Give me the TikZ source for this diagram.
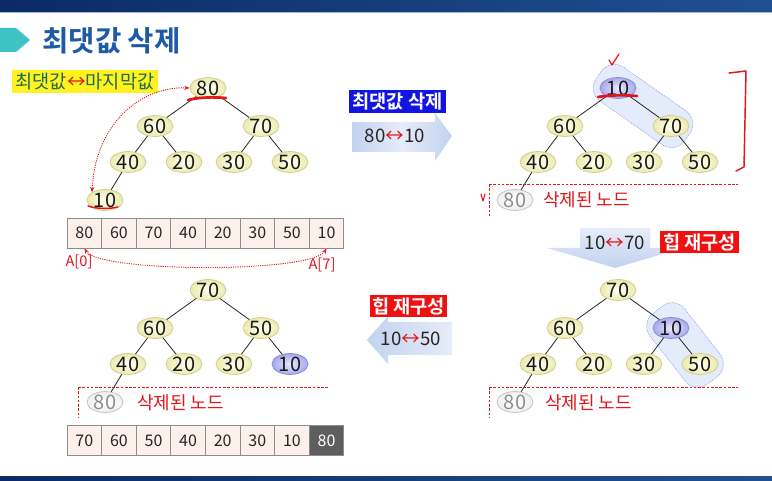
\documentclass[tikz,border=0pt]{standalone}
\usepackage{fontspec}
\setmainfont{Noto Sans CJK KR}[BoldFont={Noto Sans CJK KR Bold}]
\usetikzlibrary{shapes.geometric,arrows.meta}
\definecolor{nodeb}{HTML}{D2CF8E}
\definecolor{nodei}{HTML}{FFFFF4}
\definecolor{nodeo}{HTML}{ECEAAE}
\definecolor{blueb}{HTML}{8C8FDA}
\definecolor{bluei}{HTML}{E8E8FF}
\definecolor{blueo}{HTML}{A7A9EA}
\definecolor{delb}{HTML}{C4C4C4}
\definecolor{delt}{HTML}{8E8E8E}
\definecolor{cellb}{HTML}{8C8C8C}
\definecolor{cellf}{HTML}{FBF0EA}
\definecolor{darkcell}{HTML}{5E5E5E}
\definecolor{hred}{HTML}{E3161B}
\definecolor{titleblue}{HTML}{1D5BA6}
\definecolor{tealmark}{HTML}{3EC3C4}
\definecolor{labyel}{HTML}{FFF21F}
\definecolor{labtxt}{HTML}{1F6A52}
\definecolor{boxblue}{HTML}{1414E0}
\definecolor{boxred}{HTML}{F01010}
\definecolor{arrA}{HTML}{C2D2EF}
\definecolor{arrB}{HTML}{E6ECF8}
\definecolor{bandf}{HTML}{E4EBFA}
\definecolor{bandd}{HTML}{9AA6EA}
\definecolor{barA}{HTML}{0B2A66}
\definecolor{barB}{HTML}{21508F}
\begin{document}
\begin{tikzpicture}[x=0.75pt,y=-0.75pt,
  hn/.style={ellipse,draw=nodeb,inner color=nodei,outer color=nodeo,minimum width=27pt,minimum height=15pt,inner sep=0pt,line width=0.6pt,text=black!90,font=\fontsize{15}{15}\selectfont},
  hblue/.style={hn,draw=blueb,inner color=bluei,outer color=blueo},
  hdel/.style={hn,draw=delb,inner color=white,outer color=black!6,text=delt},
  tedge/.style={draw=black!85,line width=0.6pt},
  cell/.style={rectangle,draw=cellb,fill=cellf,minimum width=25.95pt,minimum height=22.5pt,inner sep=0pt,line width=0.6pt,text=black!85,font=\fontsize{12}{12}\selectfont},
  reddash/.style={draw=hred,dash pattern=on 2pt off 1.2pt,line width=0.6pt},
  reddot/.style={draw=hred,dash pattern=on 0.8pt off 0.9pt,line width=0.7pt},
  band/.style={rectangle,rounded corners=12pt,fill=bandf,draw=bandd,dash pattern=on 0.7pt off 0.7pt,line width=0.5pt,inner sep=0pt},
  dellab/.style={anchor=west,text=hred,font=\fontsize{13.5}{13.5}\selectfont,inner sep=0pt},
  arrtxt/.style={font=\fontsize{14}{14}\selectfont,inner sep=0pt,text=black!85},
  lab/.style={inner sep=0pt,text=white,font=\bfseries\fontsize{14}{14}\selectfont},
  hand/.style={draw=hred,line cap=round,line join=round}]
\useasboundingbox (0,0) rectangle (772,481);
\fill[white] (0,0) rectangle (772,481);
% bars
\shade[left color=barA,right color=barB] (0,0) rectangle (772,12);
\draw[color={rgb,255:red,158;green,179;blue,214},line width=0.75pt] (0,13) -- (772,13);
\shade[left color=barA,right color=barB] (0,476) rectangle (772,481);
% title
\fill[tealmark] (0,28) -- (16,28) -- (30,40) -- (16,52) -- (0,52) -- cycle;
\node[anchor=west,inner sep=0pt,text=titleblue,font=\bfseries\fontsize{21.5}{21.5}\selectfont] (title) at (42,41) {최댓값 삭제};
\node[fill=labyel,minimum width=109.5pt,minimum height=17.25pt,inner sep=0pt,text=labtxt,font=\fontsize{14}{14}\selectfont] (yl) at (85,81.5) {최댓값{\color{hred}↔}마지막값};

% ---------- tree 1 ----------
\node[hn] (a1) at (208,88) {80};
\node[hn] (a2) at (155,126) {60};
\node[hn] (a3) at (261,126) {70};
\node[hn] (a4) at (128,162) {40};
\node[hn] (a5) at (184,162) {20};
\node[hn] (a6) at (234,162) {30};
\node[hn] (a7) at (290,162) {50};
\node[hn] (a8) at (105,200) {10};
\draw[tedge] (a1)--(a2) (a1)--(a3) (a2)--(a4) (a2)--(a5) (a3)--(a6) (a3)--(a7) (a4)--(a8);
\draw[reddot,{Stealth[length=4pt,width=3pt]}-{Stealth[length=4pt,width=3pt]}] (a1.west) .. controls (140,86) and (95,125) .. (a8.north west);
\draw[hand,line width=2pt] (188,100) .. controls (200,97) and (214,97) .. (226,98);
\draw[hand,line width=1.1pt] (88,206) .. controls (96,209) and (110,209) .. (118,207);

% array 1
\foreach \v [count=\i] in {80,60,70,40,20,30,50,10}
  \node[cell] (p\i) at ({67+34.6*(\i-0.5)},233) {\v};
\draw[reddot,{Stealth[length=4pt,width=3pt]}-{Stealth[length=4pt,width=3pt]}] (p1.south) .. controls (100,273) and (312,273) .. (p8.south);
\node[text=hred,inner sep=0pt,font=\fontsize{11}{11}\selectfont] (ha0) at (79,262) {A[0]};
\node[text=hred,inner sep=0pt,font=\fontsize{11}{11}\selectfont] (ha7) at (322,265) {A[7]};

% ---------- arrow 1 ----------
\shade[left color=arrA,right color=arrA,middle color=arrB] (352,122) -- (435,122) -- (435,113) -- (452,136) -- (435,161) -- (435,152) -- (352,152) -- cycle;
\node[arrtxt] (t1) at (395,136) {80{\color{hred}↔}10};
\node[lab,fill=boxblue,minimum width=73pt,minimum height=17.25pt] (l1) at (397.5,101.5) {최댓값 삭제};

% ---------- tree 2 ----------
\begin{scope}[shift={(410,0)}]
\node[band,rotate=-35,minimum width=81pt,minimum height=31pt] (bb) at (233,106) {};
\node[hblue] (b1) at (208,88) {10};
\node[hn] (b2) at (155,126) {60};
\node[hn] (b3) at (261,126) {70};
\node[hn] (b4) at (128,162) {40};
\node[hn] (b5) at (184,162) {20};
\node[hn] (b6) at (234,162) {30};
\node[hn] (b7) at (290,162) {50};
\node[hdel] (b8) at (105,200) {80};
\draw[tedge] (b1)--(b2) (b1)--(b3) (b2)--(b4) (b2)--(b5) (b3)--(b6) (b3)--(b7) (b4)--(b8);
\draw[reddash] (79,184) -- (328,184) (79,184) -- (79,216);
\node[dellab] (b9) at (133,200) {삭제된 노드};
\draw[hand,line width=2pt] (188,97) .. controls (200,95) and (215,95) .. (227,96);
\draw[hand,line width=0.9pt] (199,60) -- (202,65) -- (209,54);
\draw[hand,line width=0.8pt] (71,194) -- (73,201) -- (75,194);
\draw[hand,line width=1.1pt] (319,73) -- (336,71) -- (334,167) -- (326,171);
\end{scope}

% ---------- arrow 2 ----------
\shade[top color=arrB,bottom color=arrA] (580,228) -- (650,228) -- (650,248) -- (683,248) -- (615,268) -- (547,248) -- (580,248) -- cycle;
\node[arrtxt] (t2) at (615,243) {10{\color{hred}↔}70};
\node[lab,fill=boxred,minimum width=59pt,minimum height=16.5pt] (l2) at (699.5,242) {힙 재구성};

% ---------- tree 3 ----------
\begin{scope}[shift={(410,202)}]
\node[band,rotate=-52,minimum width=67pt,minimum height=33pt] (cb) at (275,143) {};
\node[hn] (c1) at (208,88) {70};
\node[hn] (c2) at (155,126) {60};
\node[hblue] (c3) at (261,126) {10};
\node[hn] (c4) at (128,162) {40};
\node[hn] (c5) at (184,162) {20};
\node[hn] (c6) at (234,162) {30};
\node[hn] (c7) at (290,162) {50};
\node[hdel] (c8) at (105,200) {80};
\draw[tedge] (c1)--(c2) (c1)--(c3) (c2)--(c4) (c2)--(c5) (c3)--(c6) (c3)--(c7) (c4)--(c8);
\draw[reddash] (79,185) -- (328,185) (79,185) -- (79,216);
\node[dellab] (c9) at (135,201) {삭제된 노드};
\end{scope}

% ---------- arrow 3 ----------
\shade[left color=arrA,right color=arrB] (452,322) -- (388,322) -- (388,316) -- (367,340) -- (388,364) -- (388,355) -- (452,355) -- cycle;
\node[arrtxt] (t3) at (411,339) {10{\color{hred}↔}50};
\node[lab,fill=boxred,minimum width=58pt,minimum height=16.5pt] (l3) at (408.5,306) {힙 재구성};

% ---------- tree 4 ----------
\begin{scope}[shift={(0,202)}]
\node[hn] (d1) at (208,88) {70};
\node[hn] (d2) at (155,126) {60};
\node[hn] (d3) at (261,126) {50};
\node[hn] (d4) at (128,162) {40};
\node[hn] (d5) at (184,162) {20};
\node[hn] (d6) at (234,162) {30};
\node[hblue] (d7) at (290,162) {10};
\node[hdel] (d8) at (105,200) {80};
\draw[tedge] (d1)--(d2) (d1)--(d3) (d2)--(d4) (d2)--(d5) (d3)--(d6) (d3)--(d7) (d4)--(d8);
\draw[reddash] (78,185) -- (328,185) (78,185) -- (78,216);
\node[dellab] (d9) at (137,201) {삭제된 노드};
\end{scope}

% array 2
\foreach \v [count=\i] in {70,60,50,40,20,30,10}
  \node[cell] (q\i) at ({67+34.6*(\i-0.5)},440.5) {\v};
\node[cell,fill=darkcell,text=white] (q8) at ({67+34.6*7.5},440.5) {80};
\end{tikzpicture}
\end{document}
